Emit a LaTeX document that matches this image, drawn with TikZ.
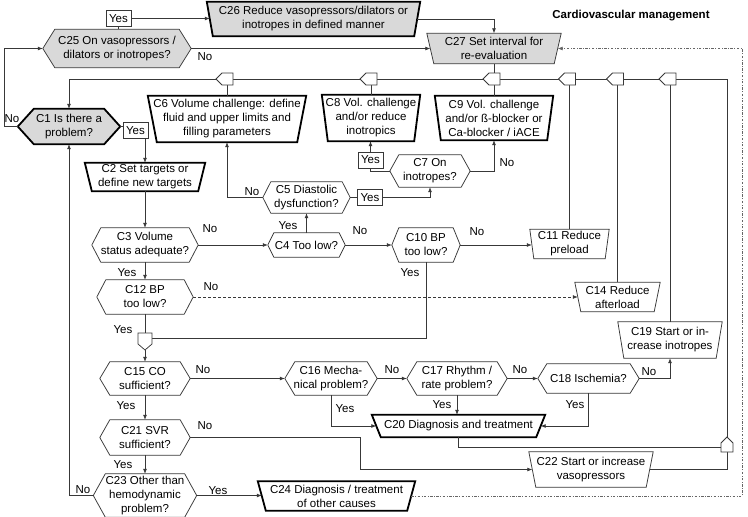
\documentclass[tikz,border=0pt]{standalone}
\usepackage{fontspec}
\setmainfont{Liberation Sans}
\usetikzlibrary{arrows.meta,calc,backgrounds}
\definecolor{lc}{gray}{0.22}
\definecolor{gfl}{gray}{0.85}
\definecolor{dc}{gray}{0.4}
\newcommand\myfs{\fontsize{11.5}{14}\selectfont}
\newcommand\hexo[3]{\path[#3] (#1.west) -- ($(#1.north west)+(#2,0)$) -- ($(#1.north east)+(-#2,0)$) -- (#1.east) -- ($(#1.south east)+(-#2,0)$) -- ($(#1.south west)+(#2,0)$) -- cycle;}
\newcommand\trapo[3]{\path[#3] (#1.north west) -- (#1.north east) -- ($(#1.south east)+(-#2,0)$) -- ($(#1.south west)+(#2,0)$) -- cycle;
\coordinate (#1-l) at ($(#1.west)+(#2/2,0)$);
\coordinate (#1-r) at ($(#1.east)+(-#2/2,0)$);}
\tikzset{
  txt/.style={inner sep=0pt, align=center, font=\myfs},
  lbl/.style={inner sep=0pt, font=\myfs},
  ybox/.style={draw=lc, line width=0.75pt, fill=white, inner sep=0pt, minimum width=25pt, minimum height=16pt, font=\myfs},
  ln/.style={draw=lc, line width=0.75pt},
  arr/.style={ln, -{Latex[length=5pt,width=4pt]}},
  thinb/.style={draw=lc, line width=0.75pt, fill=white},
  thickb/.style={draw=black, line width=1.8pt, fill=white},
  gfill/.style={fill=gfl},
  jn/.style={draw=lc, line width=0.75pt, fill=white},
  dashdotl/.style={draw=dc, line width=0.7pt, dash pattern=on 2.5pt off 1.5pt on 0.8pt off 1.5pt, -{Latex[length=5pt,width=4pt]}},
}
\begin{document}
\begin{tikzpicture}[x=1pt,y=-1pt]
\useasboundingbox (0,0) rectangle (748,517);
% ---------- nodes ----------
\node[lbl, font=\bfseries\myfs] (title) at (631,16) {Cardiovascular management};
\node[txt, minimum width=213pt, minimum height=34pt] (c26) at (313.5,19) {C26 Reduce vasopressors/dilators or\\inotropes in defined manner};
\node[txt, minimum width=148pt, minimum height=38pt] (c25) at (117,48.5) {C25 On vasopressors /\\dilators or inotropes?};
\node[txt, minimum width=134pt, minimum height=30pt] (c27) at (494,48.5) {C27 Set interval for\\re-evaluation};
\node[txt, minimum width=102pt, minimum height=35pt] (c1) at (69,126.5) {C1 Is there a\\problem?};
\node[txt, minimum width=158pt, minimum height=46pt] (c6) at (227,119) {C6 Volume challenge: define\\fluid and upper limits and\\filling parameters};
\node[txt, minimum width=98pt, minimum height=46pt] (c8) at (371,118) {C8 Vol. challenge\\and/or reduce\\inotropics};
\node[txt, minimum width=118pt, minimum height=44pt] (c9) at (494,118) {C9 Vol. challenge\\and/or ß-blocker or\\Ca-blocker / iACE};
\node[txt, minimum width=120pt, minimum height=28pt] (c2) at (145,177) {C2 Set targets or\\define new targets};
\node[txt, minimum width=80pt, minimum height=32pt] (c7) at (430,171) {C7 On\\inotropes?};
\node[txt, minimum width=87pt, minimum height=31pt] (c5) at (306.5,197.5) {C5 Diastolic\\dysfunction?};
\node[txt, minimum width=106pt, minimum height=34pt] (c3) at (145,245) {C3 Volume\\status adequate?};
\node[txt, minimum width=77pt, minimum height=24pt] (c4) at (306.5,245) {C4 Too low?};
\node[txt, minimum width=68pt, minimum height=34pt] (c10) at (426,245) {C10 BP\\too low?};
\node[txt, minimum width=79pt, minimum height=29pt] (c11) at (569.5,244) {C11 Reduce\\preload};
\node[txt, minimum width=96pt, minimum height=34pt] (c12) at (145,297) {C12 BP\\too low?};
\node[txt, minimum width=85pt, minimum height=29pt] (c14) at (617.5,297) {C14 Reduce\\afterload};
\node[txt, minimum width=104pt, minimum height=36pt] (c19) at (670,340) {C19 Start or in-\\crease inotropes};
\node[txt, minimum width=90pt, minimum height=33pt] (c15) at (145,378.5) {C15 CO\\sufficient?};
\node[txt, minimum width=92pt, minimum height=33pt] (c16) at (331,378.5) {C16 Mecha-\\nical problem?};
\node[txt, minimum width=100pt, minimum height=33pt] (c17) at (457,378.5) {C17 Rhythm /\\rate problem?};
\node[txt, minimum width=101pt, minimum height=29pt] (c18) at (588.5,378.5) {C18 Ischemia?};
\node[txt, minimum width=173pt, minimum height=22pt] (c20) at (458.5,426) {C20 Diagnosis and treatment};
\node[txt, minimum width=90pt, minimum height=35pt] (c21) at (145,437.5) {C21 SVR\\sufficient?};
\node[txt, minimum width=124pt, minimum height=35pt] (c22) at (591,469.5) {C22 Start or increase\\vasopressors};
\node[txt, minimum width=103pt, minimum height=43pt] (c23) at (145,495.5) {C23 Other than\\hemodynamic\\problem?};
\node[txt, minimum width=157pt, minimum height=29pt] (c24) at (336.5,496) {C24 Diagnosis / treatment\\of other causes};
% yes boxes
\node[ybox] (y25) at (118.5,18.5) {Yes};
\node[ybox] (y1) at (135.5,130.5) {Yes};
\node[ybox] (y5) at (370,197.5) {Yes};
\node[ybox] (y7) at (370.5,160) {Yes};
% ---------- outlines ----------
\begin{pgfonlayer}{background}
\trapo{c26}{6}{thickb,gfill}
\hexo{c25}{12}{thinb,gfill}
\trapo{c27}{7}{thinb,gfill}
\hexo{c1}{16}{thickb,gfill}
\trapo{c6}{9}{thickb}
\trapo{c8}{6}{thickb}
\trapo{c9}{6}{thickb}
\trapo{c2}{7}{thickb}
\hexo{c7}{9}{thinb}
\hexo{c5}{8}{thinb}
\hexo{c3}{9}{thinb}
\hexo{c4}{6}{thinb}
\hexo{c10}{7}{thinb}
\trapo{c11}{4}{thinb}
\hexo{c12}{9}{thinb}
\trapo{c14}{6}{thinb}
\trapo{c19}{6}{thinb}
\hexo{c15}{10}{thinb}
\hexo{c16}{10}{thinb}
\hexo{c17}{10}{thinb}
\hexo{c18}{9}{thinb}
\trapo{c20}{9}{thickb}
\hexo{c21}{10}{thinb}
\trapo{c22}{7}{thinb}
\hexo{c23}{12}{thinb}
\trapo{c24}{8}{thickb}
\end{pgfonlayer}
% ---------- junction coordinates ----------
\coordinate (j6) at (227,79);
\coordinate (j8) at (371,79);
\coordinate (j27) at (494,79);
\coordinate (j11) at (569.5,79);
\coordinate (j14) at (617.5,79);
\coordinate (j19) at (670,79);
\coordinate (jr) at (727,79);
\coordinate (jl) at (69,79);
\coordinate (pv) at (727,437);
\coordinate (jp) at (145,333);
\coordinate (dd) at (742,0);
% ---------- connectors ----------
\draw[arr] (y25.east) -- (y25.east -| c26-l);
\draw[ln] (y25.south) -- (y25.south |- c25.north);
\draw[arr] (c26-r) -| (c27.north);
\draw[arr] (c25.east) -- (c27-l);
\draw[arr] (c1.west) -- ++(-13,0) |- (c25.west);
\draw[arr] (pv) -- (jr) -- (jl) -- (c1.north);
\draw[ln] (c6.north) -- (j6);
\draw[ln] (c8.north) -- (j8);
\draw[ln] (c27.south) -- (c9.north);
\draw[ln] (c11.north) -- (j11);
\draw[ln] (c14.north) -- (j14);
\draw[ln] (c19.north) -- (j19);
\draw[ln] (c1.east) -- (c1.east -| y1.west);
\draw[arr] (y1.south -| c2.north) -- (c2.north);
\draw[arr] (c2.south) -- (c3.north);
\draw[arr] (c3.east) -- (c4.west);
\draw[arr] (c4.north) -- (c5.south);
\draw[arr] (c5.west) -| (c6.south);
\draw[ln] (c5.east) -- (y5.west);
\draw[arr] (y5.east) -| (c7.south);
\draw[ln] (c7.west) -| (y7.south);
\draw[arr] (y7.north) -- (y7.north |- c8.south);
\draw[arr] (c7.east) -| (c9.south);
\draw[arr] (c4.east) -- (c10.west);
\draw[arr] (c10.east) -- (c10.east -| c11-l);
\draw[ln] (c10.south) |- ($(jp)+(7,5)$);
\draw[arr] (c3.south) -- (c12.north);
\draw[ln] (c12.south) -- (jp);
\draw[arr] ($(jp)+(0,17)$) -- (c15.north);
\draw[arr, dashed, dash pattern=on 3pt off 2pt] (c12.east) -- (c12.east -| c14-l);
\draw[arr] (c15.east) -- (c16.west);
\draw[arr] (c16.east) -- (c17.west);
\draw[arr] (c17.east) -- (c18.west);
\draw[arr] (c18.east) -| (c19.south);
\draw[arr] (c18.south) |- (c20-r);
\draw[arr] (c16.south) |- (c20-l);
\draw[arr] (c17.south) -- (c17.south |- c20.north);
\draw[ln] (c20.south) |- ($(pv)+(-6,10)$);
\draw[arr] (c15.south) -- (c21.north);
\draw[arr] (c21.east) -- ++(170,0) |- (c22-l);
\draw[ln] (c22-r) -| ($(pv)+(0,15)$);
\draw[arr] (c21.south) -- (c23.north);
\draw[arr] (c23.west) -| (c1.south);
\draw[arr] (c23.east) -- (c23.east -| c24-l);
\draw[dashdotl] (c24-r) -- (c24-r -| dd) -- (dd |- c27-r) -- (c27-r);
% ---------- junction symbols ----------
\foreach \j in {j6,j8,j27,j11,j14,j19}
  \draw[jn] ($(\j)+(-11,0)$) -- ($(\j)+(-5,-6)$) -- ($(\j)+(6,-6)$) -- ($(\j)+(6,6)$) -- ($(\j)+(-5,6)$) -- cycle;
\draw[jn] (pv) -- ($(pv)+(6,6)$) -- ($(pv)+(6,15)$) -- ($(pv)+(-6,15)$) -- ($(pv)+(-6,6)$) -- cycle;
\draw[jn] ($(jp)+(-7,0)$) -- ($(jp)+(7,0)$) -- ($(jp)+(7,11)$) -- ($(jp)+(0,17)$) -- ($(jp)+(-7,11)$) -- cycle;
% ---------- labels ----------
\node[lbl] (n25) at (205,57) {No};
\node[lbl] (n1) at (12,119) {No};
\node[lbl] (n5) at (252,192) {No};
\node[lbl] (n7) at (507,163) {No};
\node[lbl] (n3) at (210,229) {No};
\node[lbl] (yes4) at (288,226) {Yes};
\node[lbl] (n4) at (360,231) {No};
\node[lbl] (n10) at (477,232) {No};
\node[lbl] (yes10) at (410,273) {Yes};
\node[lbl] (yes3) at (127,273) {Yes};
\node[lbl] (n12) at (211,287) {No};
\node[lbl] (yes12) at (123,330) {Yes};
\node[lbl] (n15) at (203,370) {No};
\node[lbl] (n16) at (392,370) {No};
\node[lbl] (n17) at (520,370) {No};
\node[lbl] (n18) at (649,372) {No};
\node[lbl] (yes18) at (575,405) {Yes};
\node[lbl] (yes16) at (345,409) {Yes};
\node[lbl] (yes17) at (442,405) {Yes};
\node[lbl] (yes15) at (126,406) {Yes};
\node[lbl] (n21) at (205,426) {No};
\node[lbl] (yes21) at (123,465) {Yes};
\node[lbl] (n23) at (83,490) {No};
\node[lbl] (yes23) at (218,491) {Yes};
\end{tikzpicture}
\end{document}
